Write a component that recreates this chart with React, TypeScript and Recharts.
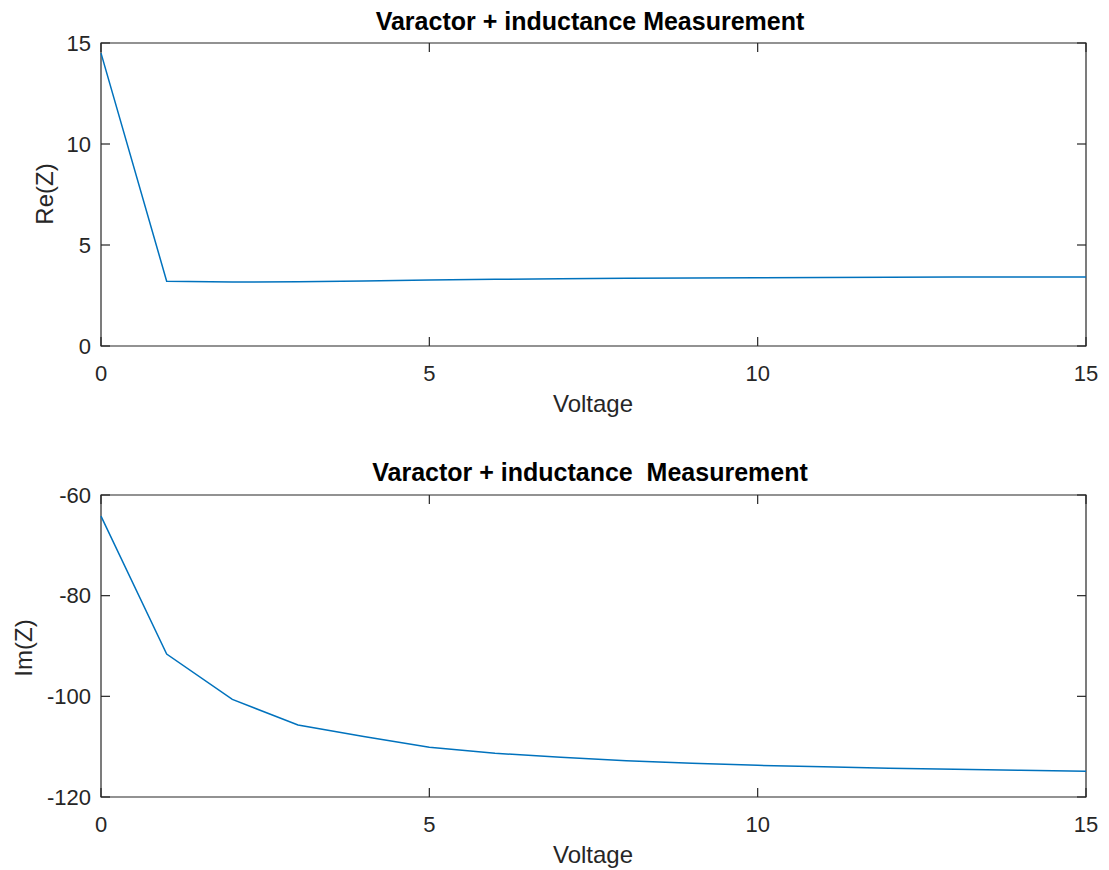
import { LineChart, Line, XAxis, YAxis, ReferenceArea, ReferenceDot } from 'recharts'

// measured at every volt, 0..15 V
const voltage = [0, 1, 2, 3, 4, 5, 6, 7, 8, 9, 10, 11, 12, 13, 14, 15]
const reZ = [14.5, 3.21, 3.17, 3.18, 3.22, 3.27, 3.3, 3.33, 3.35, 3.37, 3.38, 3.39, 3.4, 3.41, 3.41, 3.42]
const imZ = [-64.2, -91.6, -100.6, -105.7, -108.0, -110.1, -111.3, -112.1, -112.8, -113.3, -113.7, -114.0, -114.3, -114.5, -114.7, -114.9]

const xTicks = [0, 5, 10, 15]
const reTicks = [0, 5, 10, 15]
const imTicks = [-120, -100, -80, -60]

const reData = voltage.map((v, i) => ({ v, z: reZ[i] }))
const imData = voltage.map((v, i) => ({ v, z: imZ[i] }))

const AXIS = '#262626'
const LINE = '#0072BD'
const FONT = '"Liberation Sans", Arial, Helvetica, sans-serif'
const TICK_LEN = 9
const PLOT_LEFT = 101

// inward tick marks, drawn at a data point in the given direction
const tickMark = (dx: number, dy: number) => (p: any) => (
  <line x1={p.cx} y1={p.cy} x2={p.cx + dx} y2={p.cy + dy} stroke={AXIS} strokeWidth={1.2} />
)

interface PanelProps {
  data: { v: number; z: number }[]
  yTicks: number[]
  yDomain: [number, number]
  height: number
  marginTop: number
  bottomSpace: number
}

function Panel({ data, yTicks, yDomain, height, marginTop, bottomSpace }: PanelProps) {
  const [yMin, yMax] = yDomain

  const bottomTick = ({ x, y, payload }: any) => (
    <text x={x} y={y} dy="0.71em" textAnchor="middle" fill={AXIS} fontSize={22} fontFamily={FONT}>
      {payload.value}
    </text>
  )

  const leftTick = ({ y, payload }: any) => (
    <text x={PLOT_LEFT - 10} y={y} dy="0.355em" textAnchor="end" fill={AXIS} fontSize={22} fontFamily={FONT}>
      {payload.value}
    </text>
  )

  return (
    <LineChart width={1109} height={height} data={data} margin={{ top: marginTop, right: 23, left: 0, bottom: 0 }}>
      <XAxis dataKey="v" type="number" domain={[0, 15]} ticks={xTicks} interval={0}
        height={bottomSpace} axisLine={false} tickLine={false} tickSize={0} tickMargin={19} tick={bottomTick} />
      <YAxis type="number" domain={yDomain} ticks={yTicks} interval={0}
        width={PLOT_LEFT} axisLine={false} tickLine={false} tickSize={0} tick={leftTick} />
      <ReferenceArea x1={0} x2={15} y1={yMin} y2={yMax} fill="none" stroke={AXIS} strokeWidth={1.2}
        ifOverflow="visible" />
      {xTicks.map((t) => (
        <ReferenceDot key={`b${t}`} x={t} y={yMin} ifOverflow="visible" shape={tickMark(0, -TICK_LEN)} />
      ))}
      {xTicks.map((t) => (
        <ReferenceDot key={`t${t}`} x={t} y={yMax} ifOverflow="visible" shape={tickMark(0, TICK_LEN)} />
      ))}
      {yTicks.map((t) => (
        <ReferenceDot key={`l${t}`} x={0} y={t} ifOverflow="visible" shape={tickMark(TICK_LEN, 0)} />
      ))}
      {yTicks.map((t) => (
        <ReferenceDot key={`r${t}`} x={15} y={t} ifOverflow="visible" shape={tickMark(-TICK_LEN, 0)} />
      ))}
      <Line type="linear" dataKey="z" stroke={LINE} strokeWidth={1.5} dot={false} isAnimationActive={false} />
    </LineChart>
  )
}

export default function App() {
  return (
    <div style={{ position: 'absolute', left: 0, top: 0, width: 1109, height: 870, background: '#fff' }}>
      <div style={{ position: 'absolute', left: 0, top: 0 }}>
        <Panel data={reData} yTicks={reTicks} yDomain={[0, 15]} height={450} marginTop={43} bottomSpace={104} />
      </div>
      <div style={{ position: 'absolute', left: 0, top: 450 }}>
        <Panel data={imData} yTicks={imTicks} yDomain={[-120, -60]} height={420} marginTop={45} bottomSpace={73} />
      </div>
      <svg width={1109} height={870} style={{ position: 'absolute', left: 0, top: 0, pointerEvents: 'none' }}
        fontFamily={FONT}>
        <text x={590} y={30} textAnchor="middle" fontSize={25} fontWeight="bold" fill="#000">
          Varactor + inductance Measurement
        </text>
        <text x={590} y={481} textAnchor="middle" fontSize={25} fontWeight="bold" fill="#000" style={{ whiteSpace: 'pre' }}>
          {'Varactor + inductance  Measurement'}
        </text>
        <text x={593} y={412} textAnchor="middle" fontSize={24} fill={AXIS}>Voltage</text>
        <text x={593} y={863} textAnchor="middle" fontSize={24} fill={AXIS}>Voltage</text>
        <text transform="translate(44,194) rotate(-90)" textAnchor="middle" dominantBaseline="central"
          fontSize={24} fill={AXIS}>Re(Z)</text>
        <text transform="translate(23,648) rotate(-90)" textAnchor="middle" dominantBaseline="central"
          fontSize={24} fill={AXIS}>Im(Z)</text>
      </svg>
    </div>
  )
}
